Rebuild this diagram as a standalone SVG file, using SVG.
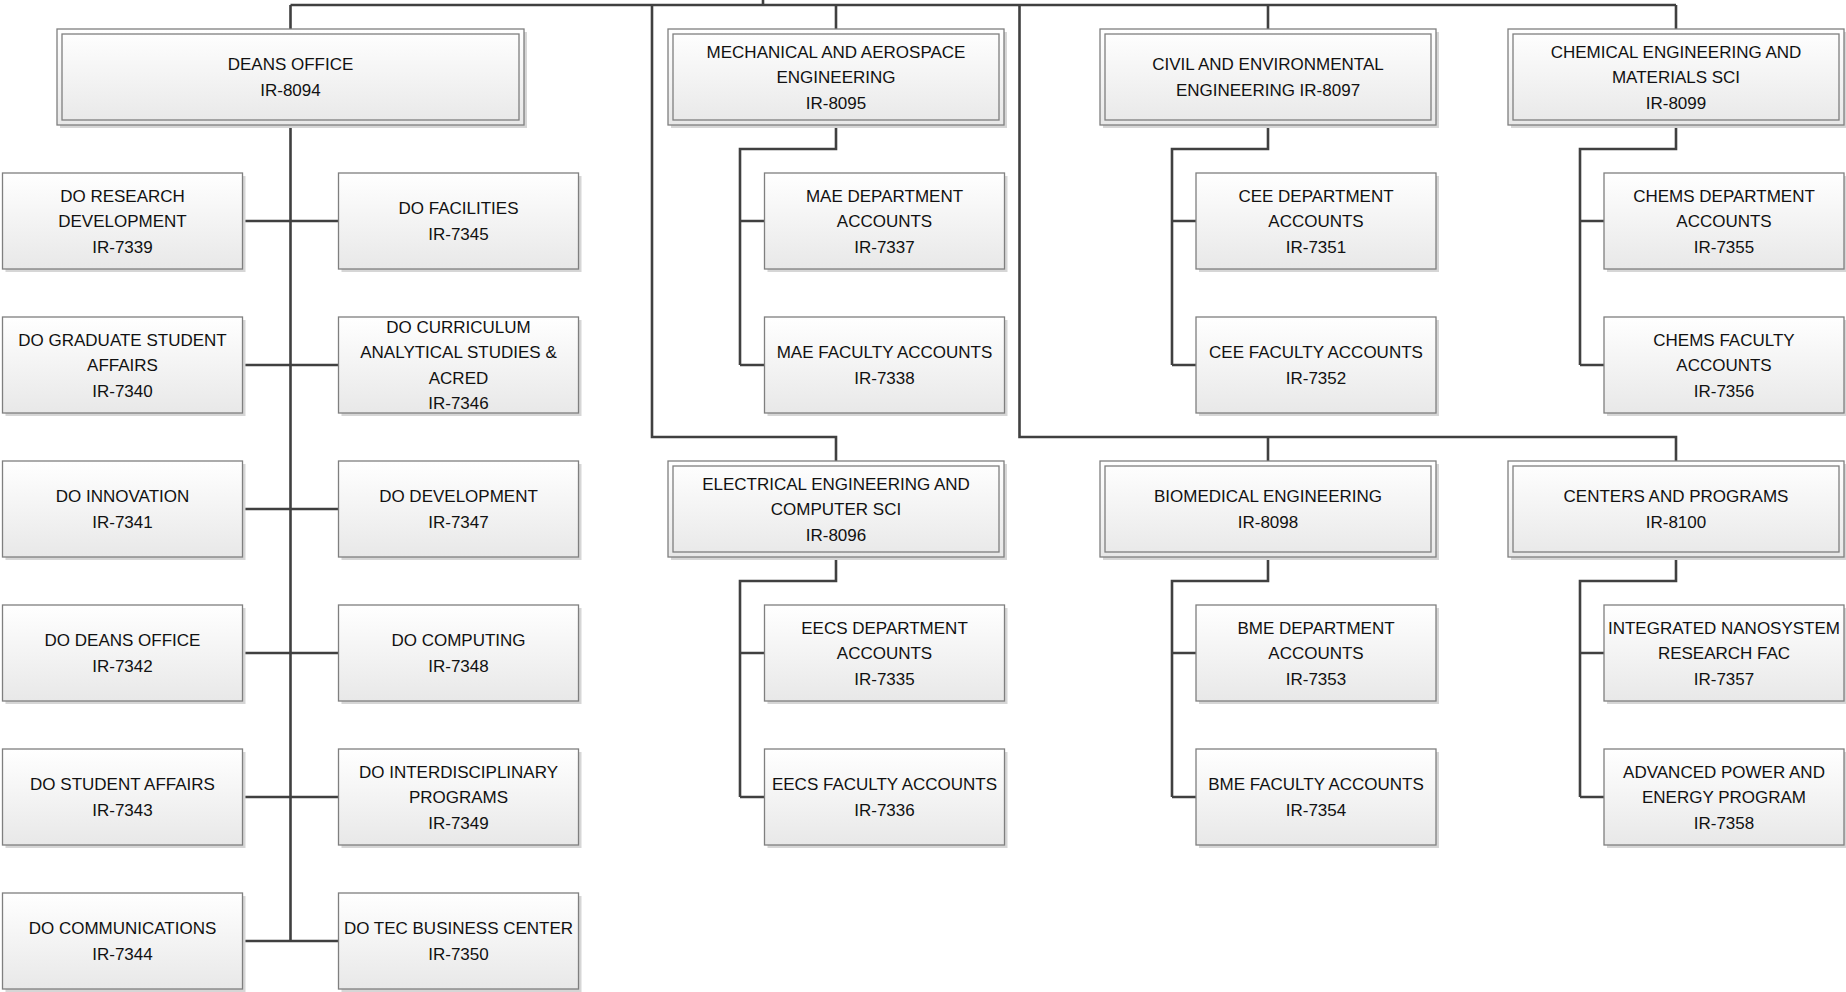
<svg xmlns="http://www.w3.org/2000/svg" width="1846" height="992" viewBox="0 0 1846 992">
<defs>
<linearGradient id="g" x1="0" y1="0" x2="0" y2="1">
<stop offset="0" stop-color="#ffffff"/>
<stop offset="1" stop-color="#e8e8e8"/>
</linearGradient>
</defs>
<style>
.sh{fill:#d6d6d6}
.bx{fill:url(#g);stroke:#7f7f7f;stroke-width:1.3}
.in{fill:none;stroke:#7f7f7f;stroke-width:1.3}
.c{fill:none;stroke:#404040;stroke-width:2.6}
text{font-family:"Liberation Sans",Arial,sans-serif;font-size:17px;fill:#111;text-anchor:middle}
</style>
<rect width="1846" height="992" fill="#ffffff"/>
<g id="connectors">
<path class="c" d="M763,0V5M290.5,5H1676M290.5,5V29M290.5,125V941"/>
<path class="c" d="M242.5,221H338.5M242.5,365H338.5M242.5,509H338.5M242.5,653H338.5M242.5,797H338.5M242.5,941H338.5"/>
<path class="c" d="M836,5V29M836,125V149H740V365M740,221H764.5M740,365H764.5"/>
<path class="c" d="M1268,5V29M1268,125V149H1172V365M1172,221H1196M1172,365H1196"/>
<path class="c" d="M1676,5V29M1676,125V149H1580V365M1580,221H1604M1580,365H1604"/>
<path class="c" d="M652,5V437H836V461"/>
<path class="c" d="M1019.5,5V437H1676V461M1268,437V461"/>
<path class="c" d="M836,557V581H740V797M740,653H764.5M740,797H764.5"/>
<path class="c" d="M1268,557V581H1172V797M1172,653H1196M1172,797H1196"/>
<path class="c" d="M1676,557V581H1580V797M1580,653H1604M1580,797H1604"/>
</g>
<g id="deans-office">
<rect class="sh" x="60" y="32" width="467" height="96"/>
<rect class="bx" x="57" y="29" width="467" height="96"/>
<rect class="in" x="62" y="34" width="457" height="86"/>
<text x="290.5" y="70.25">DEANS OFFICE</text>
<text x="290.5" y="95.75">IR-8094</text>
</g>
<g id="mae">
<rect class="sh" x="671" y="32" width="336" height="96"/>
<rect class="bx" x="668" y="29" width="336" height="96"/>
<rect class="in" x="673" y="34" width="326" height="86"/>
<text x="836" y="57.5">MECHANICAL AND AEROSPACE</text>
<text x="836" y="83">ENGINEERING</text>
<text x="836" y="108.5">IR-8095</text>
</g>
<g id="cee">
<rect class="sh" x="1103" y="32" width="336" height="96"/>
<rect class="bx" x="1100" y="29" width="336" height="96"/>
<rect class="in" x="1105" y="34" width="326" height="86"/>
<text x="1268" y="70.25">CIVIL AND ENVIRONMENTAL</text>
<text x="1268" y="95.75">ENGINEERING IR-8097</text>
</g>
<g id="chems">
<rect class="sh" x="1511" y="32" width="336" height="96"/>
<rect class="bx" x="1508" y="29" width="336" height="96"/>
<rect class="in" x="1513" y="34" width="326" height="86"/>
<text x="1676" y="57.5">CHEMICAL ENGINEERING AND</text>
<text x="1676" y="83">MATERIALS SCI</text>
<text x="1676" y="108.5">IR-8099</text>
</g>
<g id="eecs">
<rect class="sh" x="671" y="464" width="336" height="96"/>
<rect class="bx" x="668" y="461" width="336" height="96"/>
<rect class="in" x="673" y="466" width="326" height="86"/>
<text x="836" y="489.5">ELECTRICAL ENGINEERING AND</text>
<text x="836" y="515">COMPUTER SCI</text>
<text x="836" y="540.5">IR-8096</text>
</g>
<g id="bme">
<rect class="sh" x="1103" y="464" width="336" height="96"/>
<rect class="bx" x="1100" y="461" width="336" height="96"/>
<rect class="in" x="1105" y="466" width="326" height="86"/>
<text x="1268" y="502.25">BIOMEDICAL ENGINEERING</text>
<text x="1268" y="527.75">IR-8098</text>
</g>
<g id="centers">
<rect class="sh" x="1511" y="464" width="336" height="96"/>
<rect class="bx" x="1508" y="461" width="336" height="96"/>
<rect class="in" x="1513" y="466" width="326" height="86"/>
<text x="1676" y="502.25">CENTERS AND PROGRAMS</text>
<text x="1676" y="527.75">IR-8100</text>
</g>
<g id="do-research">
<rect class="sh" x="5.5" y="176" width="240" height="96"/>
<rect class="bx" x="2.5" y="173" width="240" height="96"/>
<text x="122.5" y="201.5">DO RESEARCH</text>
<text x="122.5" y="227">DEVELOPMENT</text>
<text x="122.5" y="252.5">IR-7339</text>
</g>
<g id="do-graduate">
<rect class="sh" x="5.5" y="320" width="240" height="96"/>
<rect class="bx" x="2.5" y="317" width="240" height="96"/>
<text x="122.5" y="345.5">DO GRADUATE STUDENT</text>
<text x="122.5" y="371">AFFAIRS</text>
<text x="122.5" y="396.5">IR-7340</text>
</g>
<g id="do-innovation">
<rect class="sh" x="5.5" y="464" width="240" height="96"/>
<rect class="bx" x="2.5" y="461" width="240" height="96"/>
<text x="122.5" y="502.25">DO INNOVATION</text>
<text x="122.5" y="527.75">IR-7341</text>
</g>
<g id="do-deans-office">
<rect class="sh" x="5.5" y="608" width="240" height="96"/>
<rect class="bx" x="2.5" y="605" width="240" height="96"/>
<text x="122.5" y="646.25">DO DEANS OFFICE</text>
<text x="122.5" y="671.75">IR-7342</text>
</g>
<g id="do-student-affairs">
<rect class="sh" x="5.5" y="752" width="240" height="96"/>
<rect class="bx" x="2.5" y="749" width="240" height="96"/>
<text x="122.5" y="790.25">DO STUDENT AFFAIRS</text>
<text x="122.5" y="815.75">IR-7343</text>
</g>
<g id="do-communications">
<rect class="sh" x="5.5" y="896" width="240" height="96"/>
<rect class="bx" x="2.5" y="893" width="240" height="96"/>
<text x="122.5" y="934.25">DO COMMUNICATIONS</text>
<text x="122.5" y="959.75">IR-7344</text>
</g>
<g id="do-facilities">
<rect class="sh" x="341.5" y="176" width="240" height="96"/>
<rect class="bx" x="338.5" y="173" width="240" height="96"/>
<text x="458.5" y="214.25">DO FACILITIES</text>
<text x="458.5" y="239.75">IR-7345</text>
</g>
<g id="do-curriculum">
<rect class="sh" x="341.5" y="320" width="240" height="96"/>
<rect class="bx" x="338.5" y="317" width="240" height="96"/>
<text x="458.5" y="332.75">DO CURRICULUM</text>
<text x="458.5" y="358.25">ANALYTICAL STUDIES &amp;</text>
<text x="458.5" y="383.75">ACRED</text>
<text x="458.5" y="409.25">IR-7346</text>
</g>
<g id="do-development">
<rect class="sh" x="341.5" y="464" width="240" height="96"/>
<rect class="bx" x="338.5" y="461" width="240" height="96"/>
<text x="458.5" y="502.25">DO DEVELOPMENT</text>
<text x="458.5" y="527.75">IR-7347</text>
</g>
<g id="do-computing">
<rect class="sh" x="341.5" y="608" width="240" height="96"/>
<rect class="bx" x="338.5" y="605" width="240" height="96"/>
<text x="458.5" y="646.25">DO COMPUTING</text>
<text x="458.5" y="671.75">IR-7348</text>
</g>
<g id="do-interdisciplinary">
<rect class="sh" x="341.5" y="752" width="240" height="96"/>
<rect class="bx" x="338.5" y="749" width="240" height="96"/>
<text x="458.5" y="777.5">DO INTERDISCIPLINARY</text>
<text x="458.5" y="803">PROGRAMS</text>
<text x="458.5" y="828.5">IR-7349</text>
</g>
<g id="do-tec">
<rect class="sh" x="341.5" y="896" width="240" height="96"/>
<rect class="bx" x="338.5" y="893" width="240" height="96"/>
<text x="458.5" y="934.25">DO TEC BUSINESS CENTER</text>
<text x="458.5" y="959.75">IR-7350</text>
</g>
<g id="mae-dept">
<rect class="sh" x="767.5" y="176" width="240" height="96"/>
<rect class="bx" x="764.5" y="173" width="240" height="96"/>
<text x="884.5" y="201.5">MAE DEPARTMENT</text>
<text x="884.5" y="227">ACCOUNTS</text>
<text x="884.5" y="252.5">IR-7337</text>
</g>
<g id="mae-faculty">
<rect class="sh" x="767.5" y="320" width="240" height="96"/>
<rect class="bx" x="764.5" y="317" width="240" height="96"/>
<text x="884.5" y="358.25">MAE FACULTY ACCOUNTS</text>
<text x="884.5" y="383.75">IR-7338</text>
</g>
<g id="eecs-dept">
<rect class="sh" x="767.5" y="608" width="240" height="96"/>
<rect class="bx" x="764.5" y="605" width="240" height="96"/>
<text x="884.5" y="633.5">EECS DEPARTMENT</text>
<text x="884.5" y="659">ACCOUNTS</text>
<text x="884.5" y="684.5">IR-7335</text>
</g>
<g id="eecs-faculty">
<rect class="sh" x="767.5" y="752" width="240" height="96"/>
<rect class="bx" x="764.5" y="749" width="240" height="96"/>
<text x="884.5" y="790.25">EECS FACULTY ACCOUNTS</text>
<text x="884.5" y="815.75">IR-7336</text>
</g>
<g id="cee-dept">
<rect class="sh" x="1199" y="176" width="240" height="96"/>
<rect class="bx" x="1196" y="173" width="240" height="96"/>
<text x="1316" y="201.5">CEE DEPARTMENT</text>
<text x="1316" y="227">ACCOUNTS</text>
<text x="1316" y="252.5">IR-7351</text>
</g>
<g id="cee-faculty">
<rect class="sh" x="1199" y="320" width="240" height="96"/>
<rect class="bx" x="1196" y="317" width="240" height="96"/>
<text x="1316" y="358.25">CEE FACULTY ACCOUNTS</text>
<text x="1316" y="383.75">IR-7352</text>
</g>
<g id="bme-dept">
<rect class="sh" x="1199" y="608" width="240" height="96"/>
<rect class="bx" x="1196" y="605" width="240" height="96"/>
<text x="1316" y="633.5">BME DEPARTMENT</text>
<text x="1316" y="659">ACCOUNTS</text>
<text x="1316" y="684.5">IR-7353</text>
</g>
<g id="bme-faculty">
<rect class="sh" x="1199" y="752" width="240" height="96"/>
<rect class="bx" x="1196" y="749" width="240" height="96"/>
<text x="1316" y="790.25">BME FACULTY ACCOUNTS</text>
<text x="1316" y="815.75">IR-7354</text>
</g>
<g id="chems-dept">
<rect class="sh" x="1607" y="176" width="240" height="96"/>
<rect class="bx" x="1604" y="173" width="240" height="96"/>
<text x="1724" y="201.5">CHEMS DEPARTMENT</text>
<text x="1724" y="227">ACCOUNTS</text>
<text x="1724" y="252.5">IR-7355</text>
</g>
<g id="chems-faculty">
<rect class="sh" x="1607" y="320" width="240" height="96"/>
<rect class="bx" x="1604" y="317" width="240" height="96"/>
<text x="1724" y="345.5">CHEMS FACULTY</text>
<text x="1724" y="371">ACCOUNTS</text>
<text x="1724" y="396.5">IR-7356</text>
</g>
<g id="integrated-nanosystem">
<rect class="sh" x="1607" y="608" width="240" height="96"/>
<rect class="bx" x="1604" y="605" width="240" height="96"/>
<text x="1724" y="633.5">INTEGRATED NANOSYSTEM</text>
<text x="1724" y="659">RESEARCH FAC</text>
<text x="1724" y="684.5">IR-7357</text>
</g>
<g id="advanced-power">
<rect class="sh" x="1607" y="752" width="240" height="96"/>
<rect class="bx" x="1604" y="749" width="240" height="96"/>
<text x="1724" y="777.5">ADVANCED POWER AND</text>
<text x="1724" y="803">ENERGY PROGRAM</text>
<text x="1724" y="828.5">IR-7358</text>
</g>
</svg>
